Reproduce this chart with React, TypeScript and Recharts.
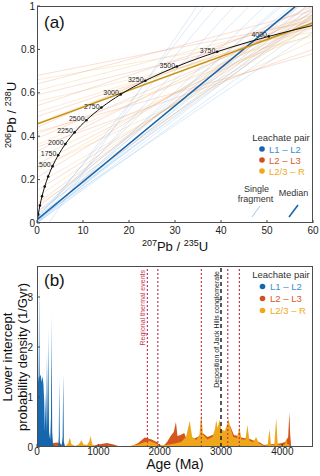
import React from 'react';
import { LineChart, Line, XAxis, YAxis, ComposedChart, Area, ReferenceLine } from 'recharts';

const FONT = '"Liberation Sans", Arial, Helvetica, sans-serif';

// (a) concordia: age (Ma), 207Pb/235U, 206Pb/238U
const concordiaAge = [0, 250, 500, 750, 1000, 1250, 1500, 1750, 2000, 2250, 2500, 2750, 3000, 3250, 3500, 3750, 4000, 4174];
const concordiaX = [0, 0.279, 0.636, 1.093, 1.677, 2.425, 3.381, 4.604, 6.168, 8.17, 10.73, 14.004, 18.193, 23.551, 30.405, 39.173, 50.388, 60];
const concordiaY = [0, 0.0395, 0.0807, 0.1234, 0.1678, 0.214, 0.262, 0.3119, 0.3638, 0.4177, 0.4737, 0.532, 0.5926, 0.6556, 0.7211, 0.7892, 0.86, 0.9108];

// single fragment lines: [206/238 at 207/235 = 0, 206/238 at 207/235 = 60]
const fragL1L2 = [
  [0.0, 1.65], [0.02, 1.52], [0.0, 1.4], [0.03, 1.29], [0.0, 1.21], [0.01, 1.14],
  [0.0, 1.05], [0.02, 1.02], [0.01, 0.98], [0.03, 0.95], [0.0, 0.92], [0.04, 1.08],
  [0.02, 0.88], [-0.08, 1.78], [0.05, 1.12], [0.01, 1.0], [0.0, 0.96],
];
const fragL2L3 = [
  [0.68, 0.93], [0.64, 0.98], [0.59, 0.9], [0.54, 0.96], [0.49, 0.92], [0.44, 1.0],
  [0.39, 0.94], [0.33, 0.97], [0.27, 0.92], [0.21, 0.99], [0.15, 0.95], [0.09, 1.02],
  [0.07, 1.05], [0.05, 0.96], [0.42, 0.78], [0.35, 0.8],
];
const fragL23R = [
  [0.66, 0.88], [0.61, 0.94], [0.56, 0.86], [0.51, 0.91], [0.46, 0.95], [0.41, 0.87],
  [0.36, 0.92], [0.3, 0.9], [0.24, 0.96], [0.18, 0.91], [0.12, 0.98], [0.08, 0.93], [0.25, 0.84],
];
const medianL1L2 = [0.015, 1.065];
const medianL23R = [0.456, 0.923];

const xTicksA = [0, 10, 20, 30, 40, 50, 60];
const yTicksA = [0, 0.2, 0.4, 0.6, 0.8, 1];

// (b) lower intercept densities: [age (Ma), density (1/Gyr)]
const densL1L2 = [
  [0, 0], [6, 1.2], [15, 1.45], [25, 1.3], [38, 3.56], [45, 1.4], [60, 1.45], [75, 1.3],
  [90, 1.42], [105, 1.25], [118, 0.9], [128, 0.3], [140, 1.1], [150, 0.3], [163, 1.9],
  [172, 0.4], [184, 2.34], [196, 0.3], [215, 0.15], [228, 0.6], [238, 2.67], [248, 0.3],
  [262, 0.05], [300, 0], [345, 0], [355, 0.2], [363, 1.37], [372, 0.1], [400, 0],
  [418, 0.2], [428, 1.47], [438, 0.1], [460, 0],
];
const densL2L3 = [
  [0, 0], [120, 0], [180, 0.04], [260, 0.08], [330, 0.09], [400, 0.05], [460, 0.02],
  [600, 0.01], [900, 0.02], [1000, 0.05], [1140, 0.08], [1250, 0.05], [1350, 0.01],
  [1550, 0.02], [1650, 0.08], [1756, 0.19], [1870, 0.15], [1950, 0.1], [2000, 0.04],
  [2060, 0.02], [2120, 0.1], [2180, 0.22], [2230, 0.3], [2265, 0.5], [2290, 0.22],
  [2340, 0.24], [2400, 0.28], [2440, 0.15], [2480, 0.12], [2560, 0.17], [2620, 0.2],
  [2700, 0.28], [2780, 0.2], [2860, 0.24], [2960, 0.3], [3060, 0.32], [3150, 0.42],
  [3210, 0.24], [3280, 0.22], [3360, 0.18], [3450, 0.17], [3530, 0.13], [3620, 0.1],
  [3700, 0.04], [3850, 0.06], [3960, 0.07], [4050, 0.1], [4095, 0.2], [4115, 0.7],
  [4128, 0.25], [4145, 0],
];
const densL23R = [
  [0, 0], [420, 0], [470, 0.02], [510, 0.08], [536, 0.19], [560, 0.06], [620, 0.02],
  [680, 0.05], [726, 0.13], [760, 0.05], [820, 0.04], [855, 0.12], [875, 0.22], [900, 0.05],
  [960, 0.02], [1200, 0.015], [1500, 0.02], [1650, 0.05], [1760, 0.1], [1837, 0.12],
  [1920, 0.08], [2000, 0.03], [2100, 0.04], [2250, 0.07], [2350, 0.1], [2430, 0.2],
  [2490, 0.52], [2530, 0.2], [2600, 0.14], [2650, 0.25], [2678, 0.68], [2705, 0.25],
  [2780, 0.15], [2860, 0.2], [2900, 0.35], [2922, 0.54], [2945, 0.38], [2976, 0.55],
  [3005, 0.35], [3060, 0.32], [3100, 0.45], [3122, 0.56], [3150, 0.4], [3200, 0.2],
  [3260, 0.18], [3300, 0.4], [3335, 0.15], [3400, 0.15], [3430, 0.44], [3465, 0.12],
  [3530, 0.1], [3572, 0.2], [3615, 0.08], [3700, 0.02], [3760, 0.04], [3790, 0.36],
  [3815, 0.04], [3870, 0.05], [3900, 0.58], [3925, 0.05], [4000, 0.03], [4045, 0.06],
  [4062, 0.18], [4080, 0.06], [4110, 0.05], [4130, 0],
];
const thermalEvents = [1800, 1970, 2680, 3110, 3300];
const jackHillsAge = 3000;

const xTicksB = [0, 1000, 2000, 3000, 4000];
const yTicksB = [0, 1, 2, 3];

const BLUE = '#1a6db3';
const ORANGE = '#d4561c';
const GOLD = '#eea61a';
const THERMAL = '#c4384f';

const tickStyle = { fill: '#222', fontSize: 10, fontFamily: FONT };

const seg = (p: number[]) => [{ x: 0, y: p[0] }, { x: 60, y: p[1] }];
const concordiaData = concordiaAge.map((a, i) => ({ x: concordiaX[i], y: concordiaY[i], age: a }));
const toRows = (arr: number[][]) => arr.map(([age, v]) => ({ age, v }));

const ConcordiaDot = (props: any) => {
  const { cx, cy, payload, index } = props;
  if (payload.age % 250 !== 0) return <g key={`cd${index}`} />;
  return (
    <g key={`cd${index}`}>
      <circle cx={cx} cy={cy} r={1.3} fill="#111" />
      {payload.age >= 1500 && (
        <text x={cx - 1.8} y={cy + 1} textAnchor="end" fontSize={7} fill="#222" fontFamily={FONT}>
          {payload.age}
        </text>
      )}
    </g>
  );
};

function ConcordiaChart() {
  return (
    <LineChart width={320} height={250} margin={{ top: 6, right: 7, left: 0, bottom: 0 }}>
      <XAxis
        type="number" dataKey="x" domain={[0, 60]} ticks={xTicksA} interval={0} allowDataOverflow
        height={27} axisLine={false} tickSize={-3} tickMargin={7} tick={tickStyle} tickLine={{ stroke: '#444' }}
      />
      <YAxis
        type="number" dataKey="y" domain={[0, 1]} ticks={yTicksA} interval={0} allowDataOverflow
        width={37} axisLine={false} tickSize={-3} tickMargin={5} tick={tickStyle} tickLine={{ stroke: '#444' }}
      />
      {fragL2L3.map((p, i) => (
        <Line key={`r${i}`} data={seg(p)} dataKey="y" type="linear" stroke="#ea7a52" strokeOpacity={0.35}
          strokeWidth={0.7} dot={false} isAnimationActive={false} />
      ))}
      {fragL23R.map((p, i) => (
        <Line key={`g${i}`} data={seg(p)} dataKey="y" type="linear" stroke="#f3b95a" strokeOpacity={0.4}
          strokeWidth={0.7} dot={false} isAnimationActive={false} />
      ))}
      {fragL1L2.map((p, i) => (
        <Line key={`b${i}`} data={seg(p)} dataKey="y" type="linear" stroke="#8fc0e8" strokeOpacity={0.45}
          strokeWidth={0.7} dot={false} isAnimationActive={false} />
      ))}
      <Line data={seg(medianL1L2)} dataKey="y" type="linear" stroke="#1565ad" strokeWidth={1.6}
        dot={false} isAnimationActive={false} />
      <Line data={seg(medianL23R)} dataKey="y" type="linear" stroke="#c8920e" strokeWidth={1.6}
        dot={false} isAnimationActive={false} />
      <Line data={concordiaData} dataKey="y" type="monotone" stroke="#111" strokeWidth={1}
        dot={ConcordiaDot} isAnimationActive={false} />
    </LineChart>
  );
}

function InterceptChart() {
  return (
    <ComposedChart width={320} height={226} margin={{ top: 16, right: 7, left: 0, bottom: 0 }}>
      <defs>
        <linearGradient id="blueFade" x1="0" y1="0" x2="0" y2="1">
          <stop offset="0" stopColor="#c2dcf2" />
          <stop offset="0.45" stopColor="#4b92d0" />
          <stop offset="0.62" stopColor={BLUE} />
          <stop offset="1" stopColor="#1565ad" />
        </linearGradient>
      </defs>
      <XAxis
        type="number" dataKey="age" domain={[0, 4500]} ticks={xTicksB} interval={0} allowDataOverflow
        height={29} axisLine={false} tickSize={-3} tickMargin={4} tick={tickStyle} tickLine={{ stroke: '#444' }}
      />
      <YAxis
        type="number" domain={[0, 3.62]} ticks={yTicksB} interval={0} allowDataOverflow
        width={37} axisLine={false} tickSize={-3} tickMargin={7} tick={tickStyle} tickLine={{ stroke: '#444' }}
      />
      <Area data={toRows(densL2L3)} dataKey="v" type="linear" fill={ORANGE} fillOpacity={1} stroke="none"
        isAnimationActive={false} />
      <Area data={toRows(densL23R)} dataKey="v" type="linear" fill={GOLD} fillOpacity={1} stroke="none"
        isAnimationActive={false} />
      <Area data={toRows(densL1L2)} dataKey="v" type="linear" fill="url(#blueFade)" fillOpacity={1} stroke="none"
        isAnimationActive={false} />
      {thermalEvents.map((a) => (
        <ReferenceLine key={a} x={a} stroke={THERMAL} strokeWidth={1.2} strokeDasharray="2 2" />
      ))}
      <ReferenceLine x={jackHillsAge} stroke="#222" strokeWidth={1.5} strokeDasharray="4 3" />
    </ComposedChart>
  );
}

function Annotations() {
  const legendItems = [
    { label: 'L1 – L2', dot: '#1565b0', text: '#3b8fd0' },
    { label: 'L2 – L3', dot: '#d05020', text: '#d9582a' },
    { label: 'L2/3 – R', dot: '#f0a818', text: '#f0aa20' },
  ];
  return (
    <svg width={320} height={476} style={{ position: 'absolute', left: 0, top: 0, pointerEvents: 'none' }}
      fontFamily={FONT}>
      {/* frames */}
      <rect x={37.5} y={6.5} width={275} height={216} fill="none" stroke="#4d4d4d" />
      <rect x={37.5} y={266.5} width={275} height={180} fill="none" stroke="#4d4d4d" />

      {/* panel a */}
      <text x={44} y={28} fontSize={17} fill="#111">(a)</text>
      <text transform="translate(16,115) rotate(-90)" textAnchor="middle" fontSize={13} fill="#111">
        <tspan fontSize={9} dy={-5}>206</tspan>
        <tspan dy={5}>Pb / </tspan>
        <tspan fontSize={9} dy={-5}>238</tspan>
        <tspan dy={5}>U</tspan>
      </text>
      <text x={175} y={251} textAnchor="middle" fontSize={13} fill="#111">
        <tspan fontSize={9} dy={-5}>207</tspan>
        <tspan dy={5}>Pb / </tspan>
        <tspan fontSize={9} dy={-5}>235</tspan>
        <tspan dy={5}>U</tspan>
      </text>
      <text x={281} y={137.5} textAnchor="middle" dominantBaseline="central" fontSize={9.5} fill="#333">Leachate pair</text>
      {legendItems.map((it, i) => (
        <g key={`la${i}`}>
          <circle cx={262} cy={149 + i * 11} r={2.8} fill={it.dot} />
          <text x={269} y={149 + i * 11} dominantBaseline="central" fontSize={9.5} fill={it.text}>{it.label}</text>
        </g>
      ))}
      <text x={256.5} y={188.5} textAnchor="middle" dominantBaseline="central" fontSize={9} fill="#333">Single</text>
      <text x={255.5} y={198.5} textAnchor="middle" dominantBaseline="central" fontSize={9} fill="#333">fragment</text>
      <text x={293.5} y={192.5} textAnchor="middle" dominantBaseline="central" fontSize={9} fill="#333">Median</text>
      <line x1={252} y1={217} x2={260} y2={206} stroke="#9cc8ec" strokeWidth={1} />
      <line x1={289} y1={217} x2={298} y2={205} stroke="#1565ad" strokeWidth={1.5} />

      {/* panel b */}
      <text x={44} y={286} fontSize={17} fill="#111">(b)</text>
      <text transform="translate(12,357) rotate(-90)" textAnchor="middle" fontSize={13} fill="#111">Lower intercept</text>
      <text transform="translate(27,357) rotate(-90)" textAnchor="middle" fontSize={13} fill="#111">probability density (1/Gyr)</text>
      <text x={175} y={469} textAnchor="middle" fontSize={14} fill="#111">Age (Ma)</text>
      <text transform="translate(145,270) rotate(-90)" textAnchor="end" fontSize={7} fill={THERMAL}>Regional thermal events</text>
      <text transform="translate(218.5,271) rotate(-90)" textAnchor="end" fontSize={7} fill="#222">Deposition of Jack Hills conglomerate</text>
      <text x={281} y={274.5} textAnchor="middle" dominantBaseline="central" fontSize={9.5} fill="#333">Leachate pair</text>
      {legendItems.map((it, i) => (
        <g key={`lb${i}`}>
          <circle cx={262.5} cy={286.5 + i * 12} r={2.8} fill={it.dot} />
          <text x={270} y={286.5 + i * 12} dominantBaseline="central" fontSize={9.5} fill={it.text}>{it.label}</text>
        </g>
      ))}
    </svg>
  );
}

export default function App() {
  return (
    <div style={{ position: 'relative', width: 320, height: 476, background: '#fff', fontFamily: FONT }}>
      <style>{'body{margin:0}'}</style>
      <div style={{ position: 'absolute', left: 0, top: 0 }}>
        <ConcordiaChart />
      </div>
      <div style={{ position: 'absolute', left: 0, top: 250 }}>
        <InterceptChart />
      </div>
      <Annotations />
    </div>
  );
}
